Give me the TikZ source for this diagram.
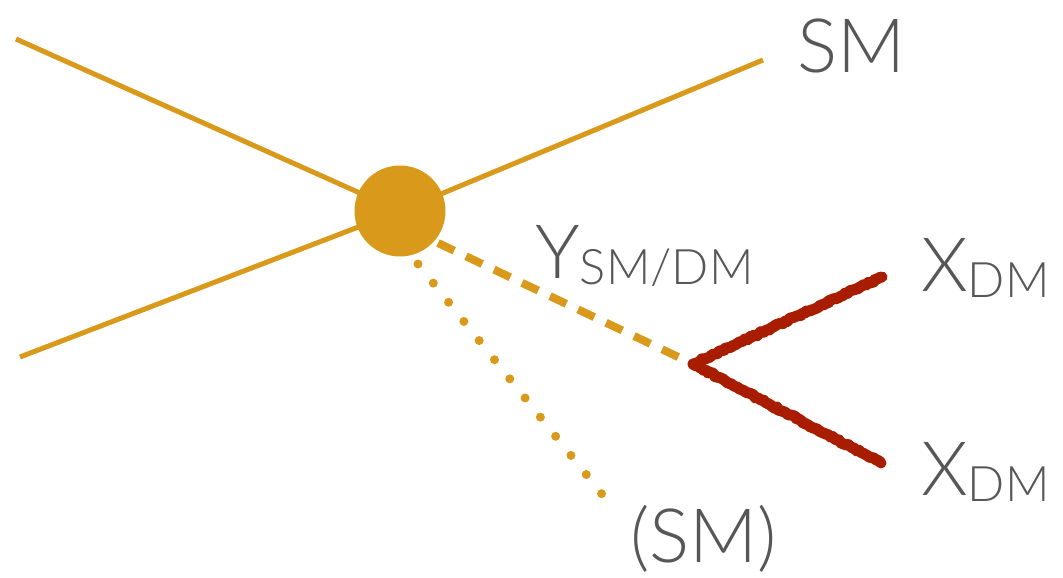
\documentclass[tikz,border=0pt]{standalone}
\usepackage{fontspec}
\setmainfont{Lato Light}
\usetikzlibrary{decorations.pathmorphing}
\definecolor{gold}{HTML}{D9991B}
\definecolor{dmred}{HTML}{A81C00}
\definecolor{txt}{HTML}{575757}
\tikzset{
  leg/.style={draw=gold, line width=5pt},
  dashleg/.style={draw=gold, line width=8pt, dash pattern=on 18pt off 13pt},
  dotleg/.style={draw=gold, line width=9pt, line cap=round, dash pattern=on 0pt off 24.5pt},
  redleg/.style={draw=dmred, line width=11pt, line cap=round, line join=round,
    decorate, decoration={random steps, segment length=2.5pt, amplitude=1.1pt}},
  blob/.style={circle, fill=gold, minimum size=91pt, inner sep=0pt},
  lbl/.style={text=txt, anchor=base west, inner sep=0pt, font=\fontsize{75}{80}\selectfont},
}
\newcommand{\subtxt}[1]{\raisebox{-6.5pt}{\fontsize{49}{50}\selectfont #1}}
\begin{document}
\begin{tikzpicture}[x=1pt, y=-1pt]
\useasboundingbox (0,0) rectangle (1063,578);
\coordinate (a1) at (16,39);
\coordinate (a2) at (20,357);
\coordinate (c) at (400,211);
\coordinate (b) at (763,60);
\coordinate (ds) at (438,243);
\coordinate (v) at (693,364);
\coordinate (d0) at (418,264);
\coordinate (d1) at (613,508);
\coordinate (x1) at (882,277);
\coordinate (x2) at (881,463);
\draw[leg] (a1) -- (c);
\draw[leg] (a2) -- (c);
\draw[leg] (c) -- (b);
\draw[dashleg] (ds) -- (v);
\draw[dotleg] (d0) -- (d1);
\node[blob] (vert) at (c) {};
\draw[redleg] (x1) -- (v) -- (x2);
\draw[redleg, draw opacity=0.6, line width=9pt] (x1) -- (v) -- (x2);
\node[lbl] (sm) at (797,73) {SM};
\node[lbl] (y) at (535,278) {Y\subtxt{SM/DM}};
\node[lbl] (xa) at (921,291) {X\subtxt{DM}};
\node[lbl] (xb) at (921,495) {X\subtxt{DM}};
\node[lbl] (smp) at (630,562) {(SM)};
\end{tikzpicture}
\end{document}
